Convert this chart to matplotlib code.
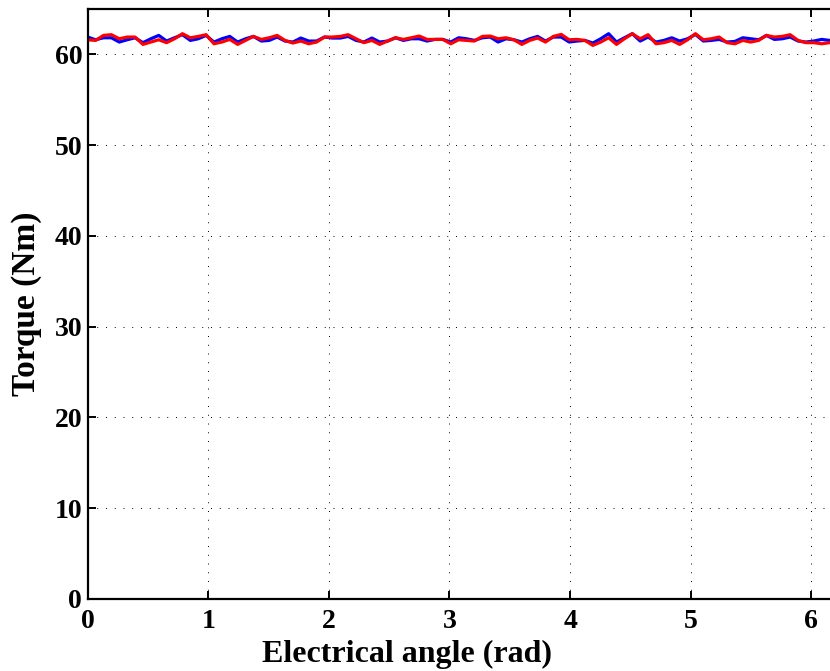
import numpy as np
import matplotlib
matplotlib.use("Agg")
from matplotlib import pyplot as plt

# torque samples over one electrical period (97 points, 0 .. 2*pi)
angle = np.linspace(0, 2 * np.pi, 97)

torque_blue = [61.91, 61.61, 61.83, 61.83, 61.36, 61.61, 61.83, 61.29, 61.72, 62.09,
               61.47, 61.83, 62.17, 61.54, 61.72, 62.09, 61.36, 61.72, 61.98, 61.36,
               61.72, 61.98, 61.47, 61.54, 61.91,
               61.47, 61.36, 61.80, 61.47, 61.47, 61.91, 61.80, 61.80, 61.98, 61.54,
               61.36, 61.80, 61.36, 61.47, 61.83, 61.54, 61.72, 61.72, 61.47, 61.65,
               61.65, 61.36,
               61.83, 61.72, 61.54, 61.83, 61.91, 61.36, 61.72, 61.61, 61.36, 61.72,
               61.98, 61.47, 61.91, 61.91, 61.36, 61.47, 61.54, 61.25, 61.72, 62.28,
               61.36, 61.83, 62.28,
               61.47, 61.91, 61.36, 61.54, 61.83, 61.47, 61.72, 62.20, 61.47, 61.54,
               61.65, 61.36, 61.43, 61.83, 61.72, 61.61, 62.09, 61.65, 61.72, 61.91,
               61.47, 61.36, 61.47, 61.65, 61.54,
               61.60, 61.65]

torque_red = [61.61, 61.54, 62.09, 62.17, 61.72, 61.91, 61.91, 61.10, 61.36, 61.61,
              61.29, 61.72, 62.28, 61.83, 61.98, 62.17, 61.17, 61.36, 61.65, 61.10,
              61.54, 61.98, 61.65, 61.83, 62.09,
              61.54, 61.25, 61.47, 61.17, 61.36, 61.91, 61.91, 61.98, 62.17, 61.72,
              61.29, 61.54, 61.10, 61.47, 61.83, 61.65, 61.83, 62.02, 61.65, 61.65,
              61.65, 61.17,
              61.61, 61.54, 61.47, 61.98, 62.02, 61.72, 61.83, 61.61, 61.10, 61.54,
              61.80, 61.36, 61.98, 62.20, 61.61, 61.65, 61.54, 60.99, 61.36, 61.83,
              61.10, 61.72, 62.28,
              61.72, 62.17, 61.17, 61.29, 61.54, 61.10, 61.61, 62.28, 61.61, 61.72,
              61.91, 61.29, 61.17, 61.54, 61.36, 61.54, 62.09, 61.91, 61.98, 62.17,
              61.54, 61.29, 61.29, 61.17, 61.29,
              61.40, 61.60]

x_ticks = [0, 1, 2, 3, 4, 5, 6]
y_ticks = [0, 10, 20, 30, 40, 50, 60]

plt.rcParams['font.family'] = ['Liberation Serif', 'DejaVu Serif']
plt.rcParams['font.weight'] = 'bold'

fig = plt.figure(figsize=(8.3, 6.71), dpi=100)
ax = fig.add_axes([87.7 / 830, 72 / 671, 757.7 / 830, 590 / 671])

ax.plot(angle, torque_blue, color='#0000ff', lw=2.3)
ax.plot(angle, torque_red, color='#ff0000', lw=2.3)

ax.set_xlim(0, 2 * np.pi)
ax.set_ylim(0, 65)
ax.set_xticks(x_ticks)
ax.set_yticks(y_ticks)
ax.grid(True, color='black', linestyle=(0, (1, 8)), linewidth=0.7)

ax.tick_params(direction='in', length=6, width=1.4, top=True, right=True,
               labelsize=20)
ax.tick_params(axis='x', pad=7)
ax.tick_params(axis='y', pad=4)
for lbl in ax.get_xticklabels() + ax.get_yticklabels():
    lbl.set_fontweight('bold')
for sp in ax.spines.values():
    sp.set_linewidth(1.6)

ax.set_xlabel('Electrical angle (rad)', fontsize=23, fontweight='bold')
ax.xaxis.set_label_coords(0.421, -0.07)
ax.set_ylabel('Torque (Nm)', fontsize=24, fontweight='bold')
ax.yaxis.set_label_coords(-0.060, 0.5)

fig.savefig('out.png', dpi=100)
